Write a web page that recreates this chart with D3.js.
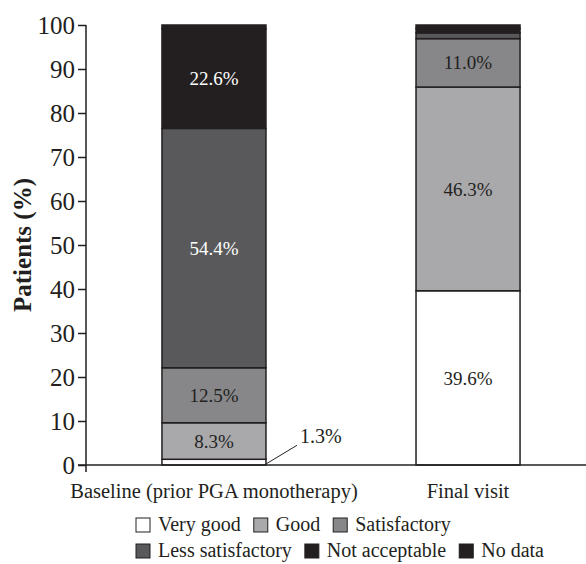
<!DOCTYPE html>
<html>
<head>
<meta charset="utf-8">
<script src="https://cdn.jsdelivr.net/npm/d3@7/dist/d3.min.js"></script>
<style>
  html, body { margin: 0; padding: 0; background: #fff; }
  svg { display: block; }
  text { font-family: "Liberation Serif", "DejaVu Serif", serif; fill: #231f20; }
</style>
</head>
<body>
<svg id="chart" width="586" height="564"></svg>
<script>
// Response categories, bottom to top of each stacked bar
const categories = ["Very good", "Good", "Satisfactory", "Less satisfactory", "Not acceptable", "No data"];
// Visits on the x axis
const visits = ["Baseline (prior PGA monotherapy)", "Final visit"];
// Percent of patients per category
const baselineValues = [1.3, 8.3, 12.5, 54.4, 22.6, 0.9];
const finalValues = [39.6, 46.3, 11.0, 1.3, 1.0, 0.8];
// Labels printed inside the segments (null = not labelled)
const baselineLabels = [null, "8.3%", "12.5%", "54.4%", "22.6%", null];
const finalLabels = ["39.6%", "46.3%", "11.0%", null, null, null];
const yTicks = [0, 10, 20, 30, 40, 50, 60, 70, 80, 90, 100];

const colors = ["#ffffff", "#a9a9ac", "#87878a", "#59595b", "#231f20", "#231f20"];
const labelColors = ["#231f20", "#231f20", "#231f20", "#ffffff", "#ffffff", "#ffffff"];
const ink = "#231f20";

const svg = d3.select("#chart");

const x = d3.scaleBand().domain(visits).range([86, 596])
  .paddingInner(0.5906).paddingOuter(0.299);
const y = d3.scaleLinear().domain([0, 100]).range([465, 25]);
const color = d3.scaleOrdinal().domain(categories).range(colors);

const rows = visits.map((v, i) => {
  const vals = i === 0 ? baselineValues : finalValues;
  const row = { visit: v };
  categories.forEach((c, k) => row[c] = vals[k]);
  return row;
});
const labelsByVisit = [baselineLabels, finalLabels];

const stack = d3.stack().keys(categories);
const series = stack(rows);

// Stacked segments
const layer = svg.append("g").selectAll("g").data(series).join("g")
  .attr("fill", d => color(d.key));
layer.selectAll("rect").data(d => d.map(p => ({ p, key: d.key })))
  .join("rect")
  .attr("x", d => x(d.p.data.visit))
  .attr("width", x.bandwidth())
  .attr("y", d => y(d.p[1]))
  .attr("height", d => y(d.p[0]) - y(d.p[1]))
  .attr("stroke", ink)
  .attr("stroke-width", 1.5);

// Segment value labels
series.forEach((s, k) => {
  s.forEach((p, i) => {
    const lab = labelsByVisit[i][k];
    if (!lab) return;
    svg.append("text")
      .attr("x", x(p.data.visit) + x.bandwidth() / 2)
      .attr("y", (y(p[0]) + y(p[1])) / 2)
      .attr("dy", "0.35em")
      .attr("text-anchor", "middle")
      .attr("font-size", 19)
      .style("fill", labelColors[k])
      .text(lab);
  });
});

// Call-out for the thin "Very good" baseline segment
const vg = series[0][0];
const bx = x(visits[0]) + x.bandwidth();
svg.append("line")
  .attr("x1", bx).attr("y1", y(vg[0]) - 1)
  .attr("x2", bx + 31).attr("y2", y(vg[1]) - 14)
  .attr("stroke", ink).attr("stroke-width", 1);
svg.append("text")
  .attr("x", bx + 34).attr("y", y(vg[1]) - 16)
  .attr("font-size", 20)
  .text(baselineValues[0].toFixed(1) + "%");

// Y axis
const yAxis = svg.append("g").attr("transform", "translate(86,0)")
  .call(d3.axisLeft(y).tickValues(yTicks).tickSize(8).tickPadding(3));
yAxis.select(".domain").remove();
yAxis.selectAll(".tick line").attr("stroke", ink).attr("stroke-width", 1.5);
yAxis.selectAll(".tick text").attr("font-size", 25).attr("font-family", "Liberation Serif").style("fill", ink);
svg.append("line").attr("x1", 86).attr("x2", 86).attr("y1", y(100)).attr("y2", y(0) + 7)
  .attr("stroke", ink).attr("stroke-width", 1.5);

// X axis baseline
svg.append("line").attr("x1", 78).attr("x2", 586).attr("y1", y(0)).attr("y2", y(0))
  .attr("stroke", ink).attr("stroke-width", 1.5);
svg.append("g").selectAll("text").data(visits).join("text")
  .attr("x", d => x(d) + x.bandwidth() / 2)
  .attr("y", 498)
  .attr("text-anchor", "middle")
  .attr("font-size", 20.5)
  .text(d => d);

// Y axis title
svg.append("text")
  .attr("transform", "translate(31," + y(50) + ") rotate(-90)")
  .attr("text-anchor", "middle")
  .attr("font-size", 25)
  .attr("font-weight", "bold")
  .text("Patients (%)");

// Legend, two rows
const legendRows = [categories.slice(0, 3), categories.slice(3)];
legendRows.forEach((items, r) => {
  let cx = 136;
  const cy = 531 + r * 26;
  items.forEach(c => {
    svg.append("rect")
      .attr("x", cx).attr("y", cy - 13)
      .attr("width", 14).attr("height", 14)
      .attr("fill", color(c)).attr("stroke", ink).attr("stroke-width", 1);
    const t = svg.append("text")
      .attr("x", cx + 22).attr("y", cy)
      .attr("font-size", 20)
      .text(c);
    cx += 22 + t.node().getComputedTextLength() + 13;
  });
});
</script>
</body>
</html>
